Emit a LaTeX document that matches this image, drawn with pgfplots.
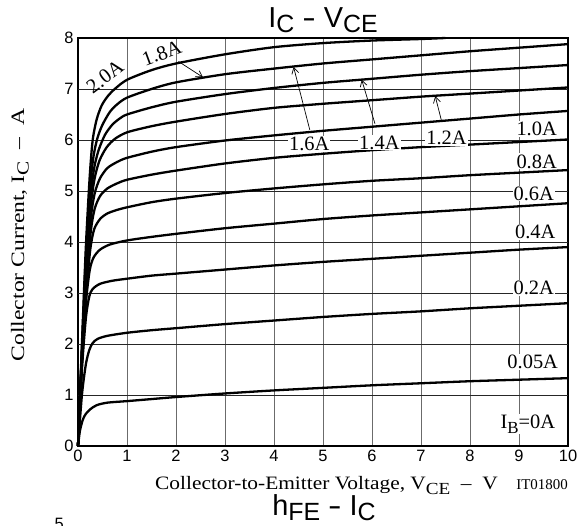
\documentclass[border=0pt]{standalone}
\usepackage{fontspec}
\setmainfont{Liberation Serif}
\setsansfont{Liberation Sans}
\usepackage{graphicx}
\usepackage{pgfplots}
\pgfplotsset{compat=1.18}
\usetikzlibrary{arrows.meta}
\newcommand{\lbl}{\fontsize{20.5}{20.5}\selectfont}
\newcommand{\axl}{\fontsize{19}{19}\selectfont}
\newcommand{\lsub}[1]{\raisebox{-4.5bp}{\fontsize{17}{17}\selectfont #1}}
\begin{document}
\begin{tikzpicture}[x=1bp,y=1bp]
\useasboundingbox (0,0) rectangle (582,526);
\begin{axis}[
  at={(78bp,80bp)}, anchor=south west,
  width=490bp, height=408bp, scale only axis,
  xmin=0, xmax=10, ymin=0, ymax=8,
  xtick={0,1,...,10}, ytick={0,1,...,8},
  major tick length=0pt,
  xmajorgrids=true,
  major grid style={black!58, line width=0.9bp},
  extra y ticks={1,2,3,4,5,6,7},
  extra y tick labels={},
  extra y tick style={ymajorgrids=true, major grid style={black!85, line width=0.8bp}},
  axis line style={line width=1.3bp},
  /pgf/number format/assume math mode=true,
  ticklabel style={font=\sffamily\fontsize{16.5}{17}\selectfont},
  xticklabel style={yshift=-1bp},
  yticklabel style={xshift=-1bp},
  clip=false,
]
% 2.0A
\addplot[black, line width=2.3bp, smooth, tension=0.45] coordinates {
(0,0)(0.08,2.0)(0.16,3.9)(0.24,5.3)(0.3,6.0)(0.38,6.4)(0.48,6.67)(0.6,6.85)(0.75,7.0)(1,7.18)(1.5,7.37)(2,7.5)(3,7.68)(4,7.82)(5,7.9)(6,7.95)(7,7.98)(7.5,8.0)};
% 1.8A
\addplot[black, line width=2.3bp, smooth, tension=0.45] coordinates {
(0,0)(0.08,1.9)(0.16,3.7)(0.25,5.1)(0.32,5.7)(0.4,6.05)(0.5,6.3)(0.65,6.55)(0.8,6.7)(1,6.83)(1.5,7.0)(2,7.13)(3,7.29)(4,7.4)(5,7.5)(6,7.58)(7,7.66)(8,7.74)(9,7.81)(10,7.88)};
% 1.6A
\addplot[black, line width=2.3bp, smooth, tension=0.45] coordinates {
(0,0)(0.08,1.85)(0.17,3.6)(0.26,4.9)(0.33,5.45)(0.42,5.8)(0.55,6.1)(0.7,6.3)(0.85,6.42)(1,6.5)(1.5,6.64)(2,6.75)(3,6.9)(4,7.02)(5,7.12)(6,7.2)(7,7.28)(8,7.35)(9,7.41)(10,7.47)};
% 1.4A
\addplot[black, line width=2.3bp, smooth, tension=0.45] coordinates {
(0,0)(0.08,1.8)(0.17,3.45)(0.26,4.7)(0.34,5.25)(0.44,5.6)(0.58,5.85)(0.75,6.02)(1,6.15)(1.5,6.27)(2,6.36)(3,6.51)(4,6.63)(5,6.71)(6,6.78)(7,6.85)(8,6.91)(9,6.97)(10,7.03)};
% 1.2A
\addplot[black, line width=2.3bp, smooth, tension=0.45] coordinates {
(0,0)(0.08,1.75)(0.17,3.3)(0.26,4.45)(0.34,4.95)(0.45,5.25)(0.6,5.45)(0.8,5.57)(1,5.65)(1.5,5.77)(2,5.86)(3,5.99)(4,6.09)(5,6.18)(6,6.26)(7,6.34)(8,6.42)(9,6.5)(10,6.57)};
% 1.0A
\addplot[black, line width=2.3bp, smooth, tension=0.45] coordinates {
(0,0)(0.08,1.7)(0.17,3.2)(0.26,4.2)(0.34,4.65)(0.45,4.9)(0.6,5.05)(0.8,5.15)(1,5.22)(1.5,5.32)(2,5.4)(3,5.54)(4,5.65)(5,5.73)(6,5.8)(7,5.86)(8,5.91)(9,5.96)(10,6.01)};
% 0.8A
\addplot[black, line width=2.3bp, smooth, tension=0.45] coordinates {
(0,0)(0.08,1.65)(0.17,3.0)(0.25,3.85)(0.33,4.25)(0.45,4.45)(0.6,4.56)(0.8,4.63)(1,4.68)(1.5,4.78)(2,4.85)(3,4.96)(4,5.05)(5,5.13)(6,5.2)(7,5.25)(8,5.31)(9,5.36)(10,5.41)};
% 0.6A
\addplot[black, line width=2.3bp, smooth, tension=0.45] coordinates {
(0,0)(0.08,1.6)(0.16,2.8)(0.24,3.45)(0.32,3.7)(0.45,3.85)(0.65,3.95)(1,4.03)(1.5,4.1)(2,4.16)(3,4.27)(4,4.36)(5,4.45)(6,4.52)(7,4.58)(8,4.64)(9,4.7)(10,4.76)};
% 0.4A
\addplot[black, line width=2.3bp, smooth, tension=0.45] coordinates {
(0,0)(0.08,1.5)(0.16,2.5)(0.23,2.93)(0.3,3.08)(0.45,3.18)(0.7,3.24)(1,3.28)(1.5,3.34)(2,3.38)(3,3.46)(4,3.54)(5,3.61)(6,3.67)(7,3.73)(8,3.79)(9,3.85)(10,3.9)};
% 0.2A
\addplot[black, line width=2.3bp, smooth, tension=0.45] coordinates {
(0,0)(0.08,1.0)(0.16,1.6)(0.23,1.88)(0.3,2.02)(0.4,2.1)(0.6,2.16)(1,2.22)(1.5,2.27)(2,2.31)(3,2.39)(4,2.46)(5,2.53)(6,2.59)(7,2.64)(8,2.7)(9,2.75)(10,2.8)};
% 0.05A
\addplot[black, line width=2.3bp, smooth, tension=0.45] coordinates {
(0,0)(0.04,0.3)(0.1,0.52)(0.16,0.63)(0.25,0.72)(0.38,0.8)(0.6,0.85)(1,0.88)(1.5,0.92)(2,0.96)(3,1.03)(4,1.09)(5,1.14)(6,1.19)(7,1.23)(8,1.27)(9,1.3)(10,1.33)};
% IB = 0A
\addplot[black, line width=2.6bp] coordinates {(0,0)(10,0)};

% labels
\node[rotate=37, inner sep=0pt] at (axis cs:0.55,7.24) {\lbl 2.0A};
\node[rotate=20, inner sep=0pt] at (axis cs:1.71,7.7) {\lbl 1.8A};
\node[fill=white, inner sep=1bp] at (axis cs:4.72,5.92) {\lbl 1.6A};
\node[fill=white, inner sep=1bp] at (axis cs:6.15,5.95) {\lbl 1.4A};
\node[fill=white, inner sep=1bp] at (axis cs:7.52,6.04) {\lbl 1.2A};
\node[fill=white, inner sep=1bp] at (axis cs:9.36,6.22) {\lbl 1.0A};
\node[fill=white, inner sep=1bp] at (axis cs:9.36,5.58) {\lbl 0.8A};
\node[fill=white, inner sep=1bp] at (axis cs:9.3,4.95) {\lbl 0.6A};
\node[fill=white, inner sep=1bp] at (axis cs:9.33,4.2) {\lbl 0.4A};
\node[fill=white, inner sep=1bp] at (axis cs:9.3,3.1) {\lbl 0.2A};
\node[fill=white, inner sep=1bp] at (axis cs:9.28,1.65) {\lbl 0.05A};
\node[fill=white, inner sep=1bp] at (axis cs:9.18,0.43) {\lbl I\lsub{B}=0A};
% arrows
\draw[-{Straight Barb[length=6bp,width=7bp]}, line width=0.7bp] (axis cs:2.05,7.54) -- (axis cs:2.55,7.23);
\draw[-{Straight Barb[length=6bp,width=7bp]}, line width=0.7bp] (axis cs:4.73,6.2) -- (axis cs:4.40,7.43);
\draw[-{Straight Barb[length=6bp,width=7bp]}, line width=0.7bp] (axis cs:6.06,6.32) -- (axis cs:5.79,7.18);
\draw[-{Straight Barb[length=6bp,width=7bp]}, line width=0.7bp] (axis cs:7.42,6.37) -- (axis cs:7.29,6.86);
\end{axis}
% titles and axis labels
\node[anchor=base] at (323,498) {\sffamily\fontsize{29}{29}\selectfont I\raisebox{-5bp}{\fontsize{25}{25}\selectfont C} \scalebox{1.4}[1]{-} V\raisebox{-5bp}{\fontsize{25}{25}\selectfont CE}};
\node[anchor=base west, inner sep=0pt] at (155,36) {\scalebox{1.13}[1]{\axl Collector-to-Emitter Voltage, V\lsub{CE}\ \ --\ \ V}};
\node[anchor=base east, inner sep=0pt] at (568,36) {\fontsize{15}{15}\selectfont IT01800};
\node[anchor=base, rotate=90, inner sep=0pt] at (24,291) {\scalebox{1.25}[1]{\axl Collector Current, I\lsub{C}\ \ --\ \ A}};
\node[anchor=base] at (324,10) {\sffamily\fontsize{29}{29}\selectfont h\raisebox{-5bp}{\fontsize{25}{25}\selectfont FE} \scalebox{1.4}[1]{-} I\raisebox{-5bp}{\fontsize{25}{25}\selectfont C}};
\node[anchor=base east, inner sep=0pt] at (64,-4) {\sffamily\fontsize{16.5}{17}\selectfont 5};
\end{tikzpicture}
\end{document}
